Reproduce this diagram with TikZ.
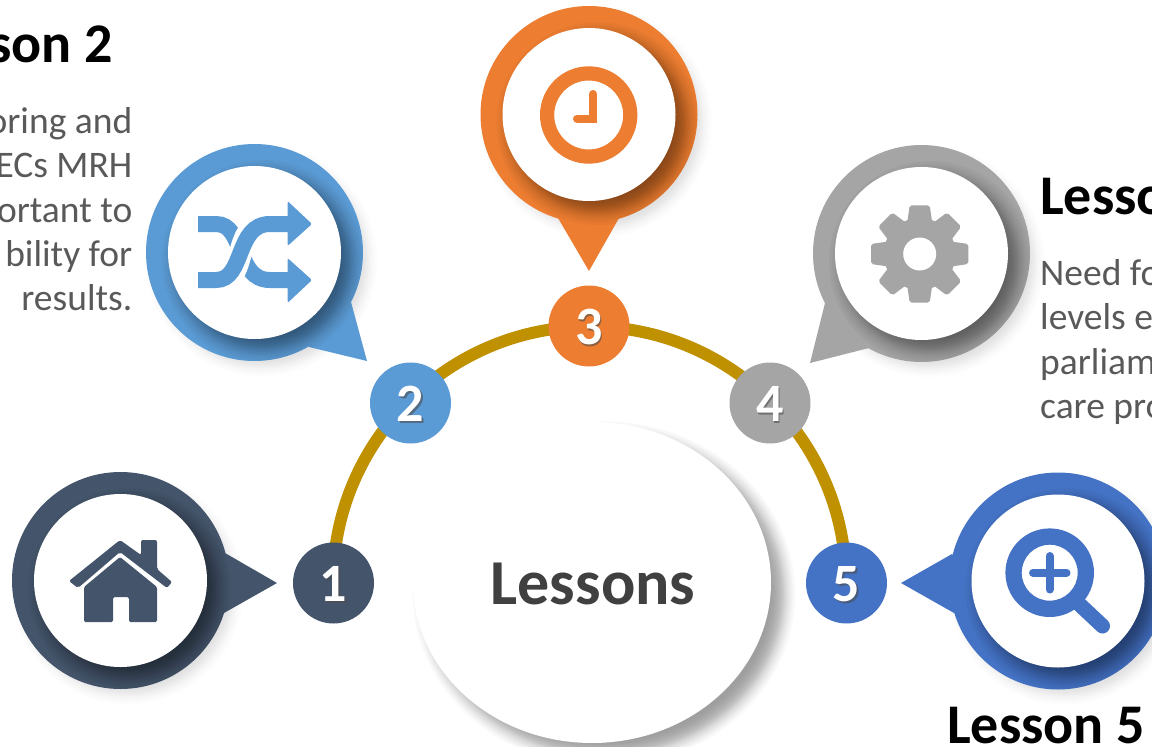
\documentclass[tikz,border=0pt]{standalone}
\usepackage{fontspec}
\usetikzlibrary{shapes.geometric}
\setmainfont{Carlito}
\definecolor{cnavy}{HTML}{44546A}
\definecolor{cblue}{HTML}{5B9BD5}
\definecolor{corange}{HTML}{ED7D31}
\definecolor{cgrey}{HTML}{A5A5A5}
\definecolor{croyal}{HTML}{4472C4}
\definecolor{cgold}{HTML}{BF9000}
\definecolor{ctext}{HTML}{595959}
\definecolor{cmain}{HTML}{404040}
% soft shadow: x y rx ry spread opacity
\newcommand{\softell}[6]{%
  \foreach \ss in {-1,-.8,-.64,-.5,-.38,-.27,-.17,-.08,0,.08,.17,.27,.38,.5,.64,.8,1}{
    \fill[black,opacity=#6] (#1,#2) ellipse[x radius={#3+#5*\ss},y radius={#4+#5*\ss}];
  }}
% pin: colour, outer cx, cy, polygon (clockwise on screen)
\newcommand{\pinshape}[4]{%
  \softell{#2+7}{#3+8}{106}{106}{10}{0.008}
  \fill[#1] (#2,#3) circle[radius=108.5];
  \fill[#1] #4 -- cycle;
  \begin{scope}
  \clip (#2,#3) circle[radius=108.5] #4 -- cycle;
  \softell{#2+9}{#3+9}{86.5}{86.5}{15}{0.03}
  \end{scope}
  \fill[white] (#2,#3) circle[radius=86.5];
}
\tikzset{
  x=1pt,y=-1pt,
  num/.style={font=\fontsize{54}{54}\selectfont\bfseries,text=white,inner sep=0pt},
  numshadow/.style={font=\fontsize{54}{54}\selectfont\bfseries,text=black!70,opacity=.6,inner sep=0pt},
  head/.style={font=\fontsize{56}{56}\selectfont\bfseries,text=black,inner sep=0pt},
  body/.style={font=\fontsize{37.5}{37.5}\selectfont,text=ctext,inner sep=0pt},
  smalldisc/.style={circle,minimum size=81pt,inner sep=0pt},
}
\begin{document}
\begin{tikzpicture}
\useasboundingbox (0,0) rectangle (1152,747);
\clip (0,0) rectangle (1152,747);
% ---- gold arc
\coordinate (arcL) at (333,583);
\draw[cgold,line width=12pt] (arcL) arc[start angle=180,end angle=360,radius=256.5] coordinate (arcR);
% ---- main ellipse
\softell{604}{594}{179}{160.5}{12}{0.028}
\node[ellipse,fill=white,minimum width=358pt,minimum height=321pt,inner sep=0pt] (hub) at (592,582.5) {};
\node[font=\fontsize{64}{64}\selectfont\bfseries,text=cmain,inner sep=0pt,anchor=base] (hubtext) at (593,604) {Lessons};
% ---- pins
\pinshape{cnavy}{120.5}{580.5}{(225,553) -- (277,583) -- (224,613) -- (200,583)}
\pinshape{cblue}{254.5}{252.5}{(351,302) -- (367,361) -- (309,347) -- (280,300)}
\pinshape{corange}{589}{114.5}{(619,218) -- (589,271) -- (558,218) -- (589,190)}
\pinshape{cgrey}{921.5}{253.5}{(900,300) -- (869,348) -- (810,363) -- (825,303)}
\pinshape{croyal}{1058}{581}{(980,583) -- (954,613) -- (901,583) -- (952,554)}
% ---- home icon
\fill[cnavy,rounded corners=2pt] (69,581) -- (120,540) -- (141,555) -- (141,540) -- (157,540) -- (157,569) -- (172,582) -- (167,588) -- (120,552) -- (78,588) -- cycle;
\fill[cnavy,rounded corners=1.5pt] (84,587) -- (120,557) -- (157,587) -- (157,622) -- (129,622) -- (129,597) -- (113,597) -- (113,622) -- (84,622) -- cycle;
% ---- shuffle icon
\draw[cblue,line width=16pt] (198,224) -- (216,224) .. controls (245,224) and (235,280) .. (270,280) -- (289,280);
\draw[white,line width=23pt] (222,280) .. controls (245,280) and (235,224) .. (264,224);
\draw[cblue,line width=16pt] (198,280) -- (216,280) .. controls (245,280) and (235,224) .. (270,224) -- (289,224);
\fill[cblue,rounded corners=1.5pt] (287.5,201) -- (312,224) -- (287.5,246) -- cycle;
\fill[cblue,rounded corners=1.5pt] (287.5,258) -- (312,280) -- (287.5,303) -- cycle;
% ---- clock icon
\fill[corange,even odd rule] (588.7,115) circle[radius=48.7] (588.7,115) circle[radius=34.5];
\draw[corange,line width=8pt,line join=miter,line cap=round] (593,94) -- (593,118.5) -- (577,118.5);
% ---- gear icon
\fill[cgrey] (919.7,254) circle[radius=36];
\foreach \a in {0,45,...,315}{
  \fill[cgrey,rounded corners=2pt,rotate around={\a:(919.7,254)}] (907,224) -- (909.7,205.3) -- (929.7,205.3) -- (932.4,224) -- cycle;
}
\fill[white] (919.7,254) circle[radius=16.5];
% ---- magnifier icon
\draw[croyal,line width=15pt,line cap=round] (1078,603) -- (1102.5,626);
\fill[croyal,even odd rule] (1049.7,572.7) circle[radius=44.3] (1049.7,572.7) circle[radius=28];
\draw[croyal,line width=8pt,line cap=round] (1033,572.7) -- (1066.5,572.7);
\draw[croyal,line width=8pt,line cap=round] (1049.7,556) -- (1049.7,589.5);
% ---- number nodes
\node[smalldisc,fill=cnavy] (n1) at (333.5,583) {};
\node[smalldisc,fill=cblue] (n2) at (410.5,403) {};
\node[smalldisc,fill=corange] (n3) at (589,326) {};
\node[smalldisc,fill=cgrey] (n4) at (770,403) {};
\node[smalldisc,fill=croyal] (n5) at (846.5,583) {};
\node[numshadow,anchor=base] at (335,603) {1};
\node[num,anchor=base] (d1) at (333.5,601.5) {1};
\node[numshadow,anchor=base] at (412,423) {2};
\node[num,anchor=base] (d2) at (410.5,421.5) {2};
\node[numshadow,anchor=base] at (590.5,346) {3};
\node[num,anchor=base] (d3) at (589,344.5) {3};
\node[numshadow,anchor=base] at (771.5,423) {4};
\node[num,anchor=base] (d4) at (770,421.5) {4};
\node[numshadow,anchor=base] at (848,603) {5};
\node[num,anchor=base] (d5) at (846.5,601.5) {5};
% ---- texts
\node[head,anchor=base east] (h2) at (113,62) {son 2};
\node[body,anchor=base east] (t21) at (132.5,133) {oring and};
\node[body,anchor=base east] (t22) at (132.5,177) {ECs MRH};
\node[body,anchor=base east] (t23) at (132.5,222) {ortant to};
\node[body,anchor=base east] (t24) at (132.5,266) {bility for};
\node[body,anchor=base east] (t25) at (132.5,310) {results.};
\node[head,anchor=base west] (h4) at (1040,214) {Lesso};
\node[body,anchor=base west] (t41) at (1040,285) {Need fo};
\node[body,anchor=base west] (t42) at (1040,329) {levels e};
\node[body,anchor=base west] (t43) at (1040,374) {parliam};
\node[body,anchor=base west] (t44) at (1040,418) {care pro};
\node[head,anchor=base west] (h5) at (947,743) {Lesson 5};
\end{tikzpicture}
\end{document}
